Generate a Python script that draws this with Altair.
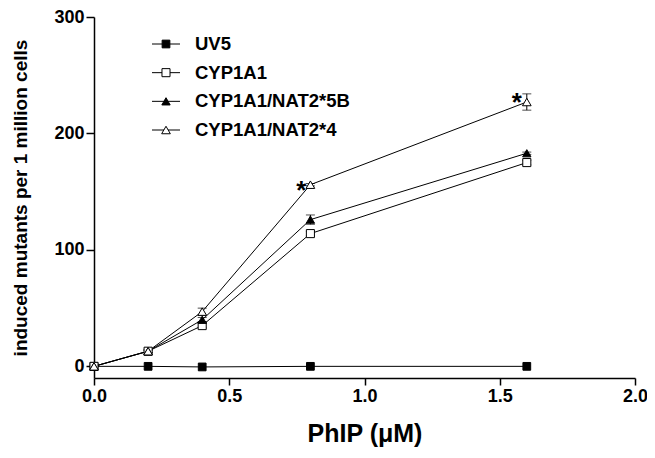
import altair as alt
import pandas as pd

# ---- data ----
dose = [0.0, 0.2, 0.4, 0.8, 1.6]
series_names = ["UV5", "CYP1A1", "CYP1A1/NAT2*5B", "CYP1A1/NAT2*4"]
uv5 = [0, 0, -0.5, 0, 0]
cyp1a1 = [0, 13, 35, 114, 175]
nat2_5b = [0, 13, 40, 126, 183]
nat2_4 = [0, 13, 47, 156, 227]
err_uv5 = [0, 0, 0, 0, 0]
err_cyp1a1 = [0, 1, 2, 2, 2]
err_nat2_5b = [0, 1, 2, 4, 1]
err_nat2_4 = [0, 1, 3, 1, 7]
# significance markers
sig_dose = [0.8, 1.6]
sig_value = [156, 227]
sig_dy = [14, 9]
sig_dx = [-4, -5]

shapes = ["square", "square", "triangle-up", "triangle-up"]
fills = ["black", "white", "black", "white"]
sizes = [60, 75, 60, 60]

rows = []
for name, vals, errs in zip(series_names, [uv5, cyp1a1, nat2_5b, nat2_4],
                            [err_uv5, err_cyp1a1, err_nat2_5b, err_nat2_4]):
    for d, v, e in zip(dose, vals, errs):
        rows.append({"series": name, "dose": d, "value": v,
                     "lo": v - e, "hi": v + e, "err": e})
df = pd.DataFrame(rows)
df_err = df[df["err"] > 0]
df_sig = pd.DataFrame({"dose": sig_dose, "value": sig_value})
df_leg = pd.DataFrame({"series": series_names})

FONT = "Liberation Sans"

xs = alt.Scale(domain=[0, 2], nice=False, zero=False)
ys = alt.Scale(domain=[-10, 300], nice=False, zero=False)
X = alt.X("dose:Q", scale=xs,
          axis=alt.Axis(values=[0, 0.5, 1.0, 1.5, 2.0], format=".1f",
                        title="PhIP (\u03bcM)", titleFontSize=25,
                        titlePadding=16, labelFlush=False, tickSize=7))
Y = alt.Y("value:Q", scale=ys,
          axis=alt.Axis(values=[0, 100, 200, 300], format="d",
                        title="induced mutants per 1 million cells",
                        titleFontSize=19, titlePadding=23, labelFlush=False,
                        tickSize=8))

shape_scale = alt.Scale(domain=series_names, range=shapes)
fill_scale = alt.Scale(domain=series_names, range=fills)
size_scale = alt.Scale(domain=series_names, range=sizes)

lines = alt.Chart(df).mark_line(color="black", strokeWidth=1).encode(
    x=X, y=Y, detail="series:N")

err_rule = alt.Chart(df_err).mark_rule(color="black", strokeWidth=1).encode(
    x="dose:Q", y="lo:Q", y2="hi:Q")
err_cap_hi = alt.Chart(df_err).mark_tick(color="black", thickness=1, size=9,
                                          orient="horizontal").encode(
    x="dose:Q", y="hi:Q")
err_cap_lo = alt.Chart(df_err).mark_tick(color="black", thickness=1, size=9,
                                          orient="horizontal").encode(
    x="dose:Q", y="lo:Q")

points = alt.Chart(df).mark_point(stroke="black", strokeWidth=1, opacity=1,
                                  filled=False).encode(
    x="dose:Q", y="value:Q",
    shape=alt.Shape("series:N", scale=shape_scale, legend=None),
    fill=alt.Fill("series:N", scale=fill_scale, legend=None),
    size=alt.Size("series:N", scale=size_scale, legend=None),
)

stars_list = []
for i in range(len(sig_dose)):
    stars_list.append(
        alt.Chart(df_sig.iloc[[i]]).mark_text(
            text="*", font=FONT, fontWeight="bold", fontSize=26, align="right",
            baseline="alphabetic", color="black",
            dx=sig_dx[i], dy=sig_dy[i]).encode(x="dose:Q", y="value:Q"))

# ---- legend drawn with its own point scale ----
LY = alt.Y("series:N",
           scale=alt.Scale(type="point", domain=series_names, range=[27, 113],
                           padding=0),
           axis=None)
leg_line = alt.Chart(df_leg).mark_rule(color="black", strokeWidth=1).encode(
    y=LY, x=alt.value(58), x2=alt.value(86))
leg_pts = alt.Chart(df_leg).mark_point(stroke="black", strokeWidth=1, opacity=1,
                                       filled=False).encode(
    y=LY, x=alt.value(72),
    shape=alt.Shape("series:N", scale=shape_scale, legend=None),
    fill=alt.Fill("series:N", scale=fill_scale, legend=None),
    size=alt.Size("series:N", scale=size_scale, legend=None),
)
leg_txt = alt.Chart(df_leg).mark_text(font=FONT, fontWeight="bold", fontSize=18.5,
                                      align="left", baseline="middle",
                                      color="black").encode(
    y=LY, x=alt.value(101), text="series:N")
legend = alt.layer(leg_line, leg_pts, leg_txt)

data_layer = alt.layer(lines, err_rule, err_cap_hi, err_cap_lo, points, *stars_list)

chart = alt.layer(data_layer, legend).resolve_scale(y="independent").properties(
    width=541, height=361,
    autosize=alt.AutoSizeParams(type="none"),
    padding={"left": 86, "top": 9, "right": 12, "bottom": 72},
).configure_view(stroke=None).configure_axis(
    grid=False, domainColor="black", domainWidth=1.5, tickColor="black",
    tickWidth=1.5, labelFont=FONT, labelFontWeight="bold",
    labelFontSize=18, labelColor="black", titleFont=FONT,
    titleFontWeight="bold", titleColor="black", labelPadding=2,
)

chart.save("out.html", embed_options={"renderer": "svg", "actions": False})
